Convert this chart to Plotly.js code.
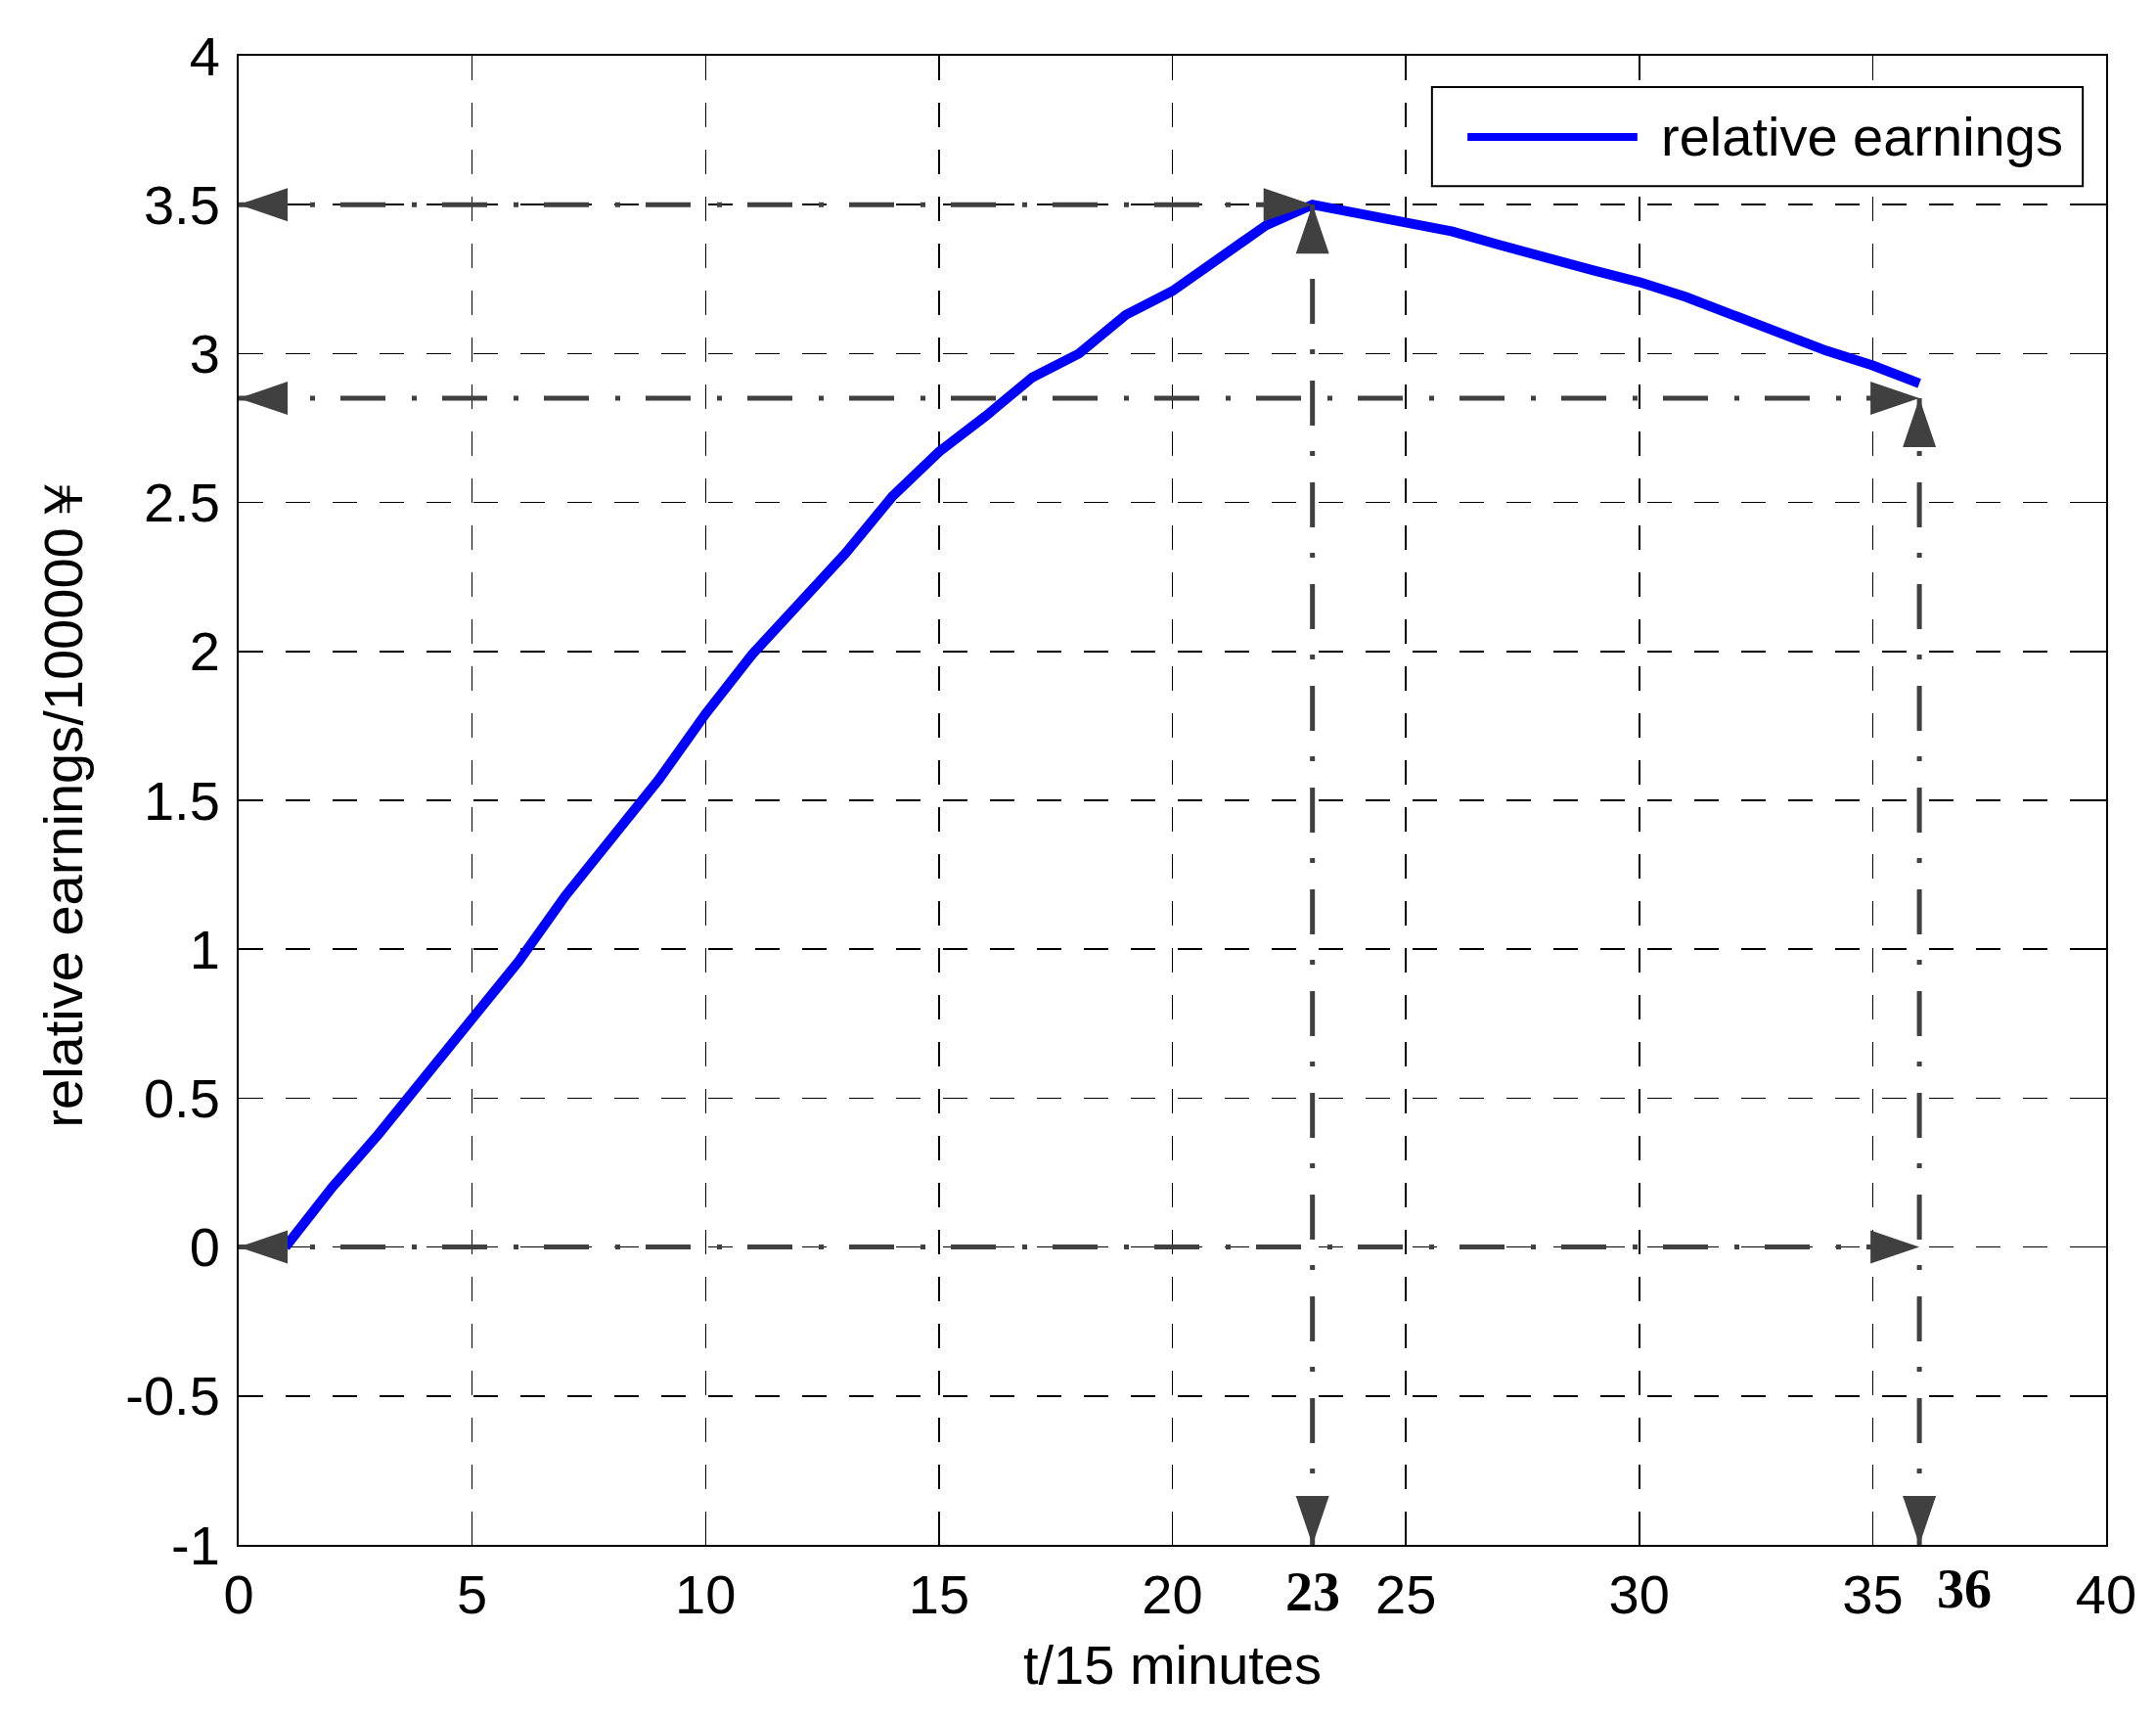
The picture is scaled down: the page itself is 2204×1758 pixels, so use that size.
<!DOCTYPE html>
<html>
<head>
<meta charset="utf-8">
<script src="https://cdn.plot.ly/plotly-3.0.1.min.js"></script>
<style>html,body{margin:0;padding:0;background:#fff;}</style>
</head>
<body>
<div id="chart" style="width:2204px;height:1758px;"></div>
<script>
// time step (units of 15 minutes) and relative earnings (x 100000 yuan)
const steps = [1, 2, 3, 4, 5, 6, 7, 8, 9, 10, 11, 12, 13, 14, 15, 16, 17, 18,
               19, 20, 21, 22, 23, 24, 25, 26, 27, 28, 29, 30, 31, 32, 33, 34, 35, 36];
const earnings = [0, 0.2, 0.38, 0.57, 0.77, 0.96, 1.18, 1.38, 1.57, 1.79, 1.99, 2.16,
                  2.33, 2.52, 2.67, 2.79, 2.92, 3.0, 3.13, 3.21, 3.32, 3.43, 3.5, 3.47,
                  3.44, 3.41, 3.365, 3.32, 3.28, 3.24, 3.19, 3.13, 3.07, 3.01, 2.96, 2.9];

// y tick labels (plain hyphen for negatives, like the original)
const yTickVals = [-1, -0.5, 0, 0.5, 1, 1.5, 2, 2.5, 3, 3.5, 4];
const yTickText = ['-1', '-0.5', '0', '0.5', '1', '1.5', '2', '2.5', '3', '3.5', '4'];

// marked points
const peakT = 23, peakV = 3.5;
const endT = 36, endV = 2.85;
const yMin = -1, yMax = 4;
const xMin = 0, xMax = 40;

const font = 'Liberation Sans, Arial, Helvetica, sans-serif';
const guideColor = '#404040';
const dashDot = '46px,27px,5px,26px';

let trace = {
    type: 'scatter',
    mode: 'lines',
    name: 'relative earnings',
    x: steps,
    y: earnings,
    line: { color: '#0000ff', width: 10 },
    showlegend: false
};

// dash-dot guide lines
function guide(x0, y0, x1, y1) {
    return {
        type: 'line', xref: 'x', yref: 'y',
        x0: x0, y0: y0, x1: x1, y1: y1,
        line: { color: guideColor, width: 5, dash: dashDot }
    };
}

// arrow heads: tip sits on the anchor, size given in pixels
const headLen = 50, headHalf = 17;
const headPaths = {
    left:  'M0,0 L' + headLen + ',' + headHalf + ' L' + headLen + ',-' + headHalf + ' Z',
    right: 'M0,0 L-' + headLen + ',' + headHalf + ' L-' + headLen + ',-' + headHalf + ' Z',
    up:    'M0,0 L' + headHalf + ',-' + headLen + ' L-' + headHalf + ',-' + headLen + ' Z',
    down:  'M0,0 L' + headHalf + ',' + headLen + ' L-' + headHalf + ',' + headLen + ' Z'
};
function head(x, y, dir) {
    return {
        type: 'path', xref: 'x', yref: 'y',
        xsizemode: 'pixel', ysizemode: 'pixel',
        xanchor: x, yanchor: y,
        path: headPaths[dir],
        fillcolor: guideColor,
        line: { width: 0 }
    };
}

let shapes = [
    guide(xMin, peakV, peakT, peakV),
    guide(xMin, endV, endT, endV),
    guide(xMin, 0, endT, 0),
    guide(peakT, yMin, peakT, peakV),
    guide(endT, yMin, endT, endV),
    head(xMin, peakV, 'left'),
    head(peakT, peakV, 'right'),
    head(peakT, peakV, 'up'),
    head(peakT, yMin, 'down'),
    head(xMin, endV, 'left'),
    head(endT, endV, 'right'),
    head(endT, endV, 'up'),
    head(endT, yMin, 'down'),
    head(xMin, 0, 'left'),
    head(endT, 0, 'right'),
    // legend box
    { type: 'rect', xref: 'paper', yref: 'paper', x0: 0.639, x1: 0.9875, y0: 0.9125, y1: 0.9790,
      line: { color: '#000', width: 2 }, fillcolor: '#fff' },
    { type: 'line', xref: 'paper', yref: 'paper', x0: 0.658, x1: 0.749, y0: 0.9455, y1: 0.9455,
      line: { color: '#0000ff', width: 8 } }
];

let annotations = [
    { x: peakT, y: 0, xref: 'x', yref: 'paper', yanchor: 'top', yshift: -15, showarrow: false,
      text: '<b>' + peakT + '</b>', font: { family: 'Liberation Serif, Times New Roman, serif', size: 56, color: '#000' } },
    { x: endT, y: 0, xref: 'x', yref: 'paper', yanchor: 'top', yshift: -12, xshift: 46, showarrow: false,
      text: '<b>' + endT + '</b>', font: { family: 'Liberation Serif, Times New Roman, serif', size: 56, color: '#000' } },
    { x: 0.7605, y: 0.9455, xref: 'paper', yref: 'paper', xanchor: 'left', yanchor: 'middle', showarrow: false,
      text: 'relative earnings', font: { family: font, size: 56, color: '#000' } }
];

let layout = {
    width: 2204,
    height: 1758,
    margin: { l: 244, r: 51, t: 57, b: 179 },
    paper_bgcolor: '#fff',
    plot_bgcolor: '#fff',
    font: { family: font, size: 56, color: '#000' },
    showlegend: false,
    xaxis: {
        range: [xMin, xMax],
        dtick: 5,
        tick0: 0,
        showgrid: true,
        gridcolor: '#000',
        gridwidth: 1.5,
        griddash: '25px,23px',
        zeroline: false,
        showline: true,
        linecolor: '#000',
        linewidth: 2,
        mirror: 'ticks',
        ticks: 'inside',
        ticklen: 12,
        tickwidth: 1.5,
        tickcolor: '#000',
        ticklabelstandoff: 1,
        tickfont: { family: font, size: 56, color: '#000' },
        title: { text: 't/15 minutes', font: { family: font, size: 56, color: '#000' }, standoff: 22 }
    },
    yaxis: {
        range: [yMin, yMax],
        tickmode: 'array',
        tickvals: yTickVals,
        ticktext: yTickText,
        showgrid: true,
        gridcolor: '#000',
        gridwidth: 1.5,
        griddash: '25px,23px',
        zeroline: false,
        showline: true,
        linecolor: '#000',
        linewidth: 2,
        mirror: 'ticks',
        ticks: 'inside',
        ticklen: 12,
        tickwidth: 1.5,
        tickcolor: '#000',
        ticklabelstandoff: 6,
        tickfont: { family: font, size: 56, color: '#000' },
        title: { text: 'relative earnings/100000￥', font: { family: font, size: 56, color: '#000' }, standoff: 26 }
    },
    shapes: shapes,
    annotations: annotations
};

Plotly.newPlot('chart', [trace], layout, { displayModeBar: false, staticPlot: true });
</script>
</body>
</html>
